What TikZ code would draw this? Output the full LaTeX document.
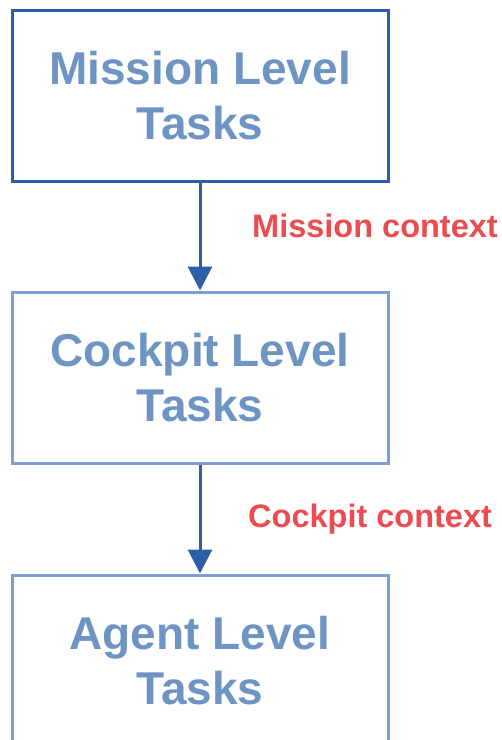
\documentclass[tikz,border=0pt]{standalone}
\usepackage{fontspec}
\setmainfont{Liberation Sans}
\usetikzlibrary{arrows.meta}
\definecolor{darkb}{RGB}{46,94,168}
\definecolor{lightb}{RGB}{124,160,212}
\definecolor{txtb}{RGB}{110,148,196}
\definecolor{redl}{RGB}{236,76,80}
\tikzset{
  taskbox/.style={draw, line width=3pt, minimum width=376pt, minimum height=171pt,
    inner sep=0pt, align=center, text=txtb, font=\fontsize{46}{55}\selectfont\bfseries},
  flowarrow/.style={draw=darkb, line width=3pt, -{Triangle[width=24pt,length=24pt]}},
  ctxlabel/.style={anchor=base west, inner sep=0pt, text=redl, font=\fontsize{32.5}{38}\selectfont\bfseries}
}
\begin{document}
\begin{tikzpicture}[x=1pt,y=-1pt]
\clip (0,0) rectangle (502,740);
\fill[white] (0,0) rectangle (502,740);
\node[taskbox, draw=darkb] (b1) at (200,95.5) {Mission Level\\Tasks};
\node[taskbox, draw=lightb] (b2) at (200,377.5) {Cockpit Level\\Tasks};
\node[taskbox, draw=lightb] (b3) at (200,660.5) {Agent Level\\Tasks};
\draw[flowarrow] (b1.south) -- (b2.north);
\draw[flowarrow] (b2.south) -- (b3.north);
\node[ctxlabel] (l1) at (252,237) {Mission context};
\node[ctxlabel] (l2) at (248,527) {Cockpit context};
\end{tikzpicture}
\end{document}
